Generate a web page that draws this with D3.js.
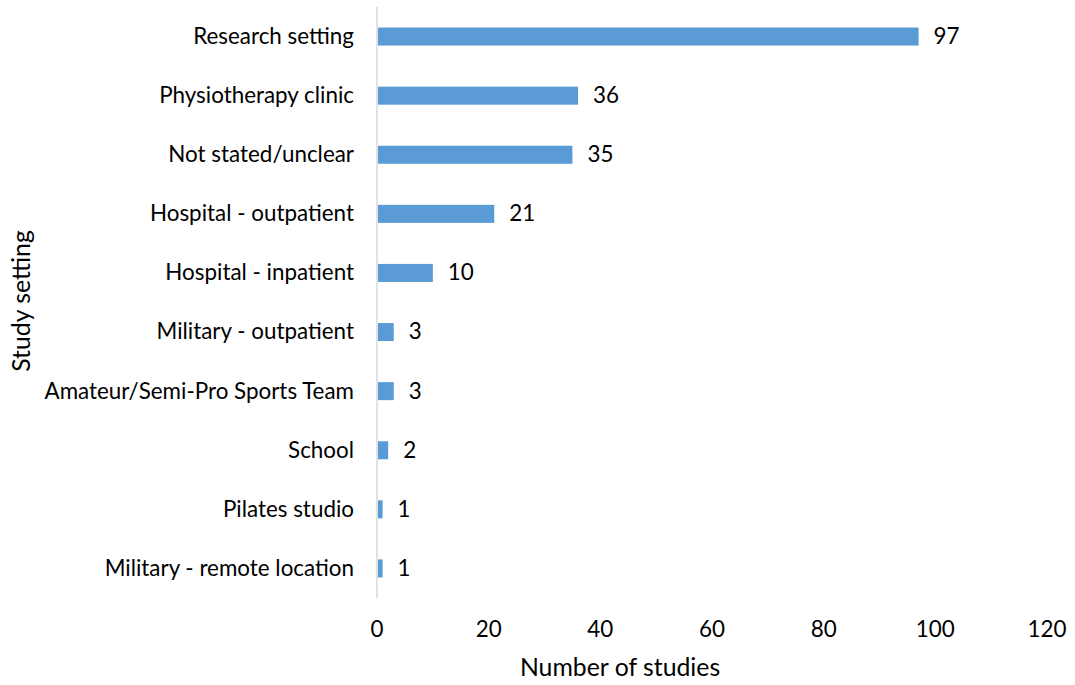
<!DOCTYPE html>
<html><head><meta charset="utf-8">
<script src="https://cdn.jsdelivr.net/npm/d3@7"></script>
<style>body{margin:0;background:#fff;}text{font-family:Lato,"Open Sans",sans-serif;fill:#000;}</style>
</head><body><svg id="c" width="1075" height="685"></svg>
<script>
const categories = ["Research setting","Physiotherapy clinic","Not stated/unclear","Hospital - outpatient","Hospital - inpatient","Military - outpatient","Amateur/Semi-Pro Sports Team","School","Pilates studio","Military - remote location"];
const values = [97,36,35,21,10,3,3,2,1,1];
const xTicks = [0,20,40,60,80,100,120];

const svg = d3.select("#c");
const x = d3.scaleLinear().domain([0,120]).range([377,1047]);
const y = d3.scaleBand().domain(categories).range([7,598]).paddingInner(0.695).paddingOuter(0.3475);
const fs = 22.4, tfs = 24.8;

svg.append("line").attr("x1",x(0)).attr("x2",x(0)).attr("y1",7).attr("y2",598).attr("stroke","#d9d9d9").attr("stroke-width",1.5);

svg.selectAll("rect.bar").data(values).join("rect").attr("class","bar")
  .attr("x",x(0)+1).attr("y",(d,i)=>y(categories[i])).attr("width",d=>x(d)-x(0)-1).attr("height",y.bandwidth())
  .attr("fill","#5b9bd5");

svg.selectAll("text.val").data(values).join("text").attr("class","val")
  .attr("x",d=>x(d)+15).attr("y",(d,i)=>y(categories[i])+y.bandwidth()/2).attr("dy","0.33em")
  .attr("font-size",fs).text(d=>d);

svg.selectAll("text.cat").data(categories).join("text").attr("class","cat")
  .attr("x",354).attr("y",d=>y(d)+y.bandwidth()/2).attr("dy","0.33em").attr("text-anchor","end")
  .attr("font-size",fs).text(d=>d);

svg.selectAll("text.tick").data(xTicks).join("text").attr("class","tick")
  .attr("x",d=>x(d)).attr("y",629).attr("dy","0.36em").attr("text-anchor","middle")
  .attr("font-size",fs).text(d=>d);

svg.append("text").attr("x",620).attr("y",667).attr("dy","0.36em").attr("text-anchor","middle").attr("font-size",tfs).text("Number of studies");
svg.append("text").attr("transform","translate(21,301) rotate(-90)").attr("dy","0.36em").attr("text-anchor","middle").attr("font-size",tfs).text("Study setting");
</script></body></html>
